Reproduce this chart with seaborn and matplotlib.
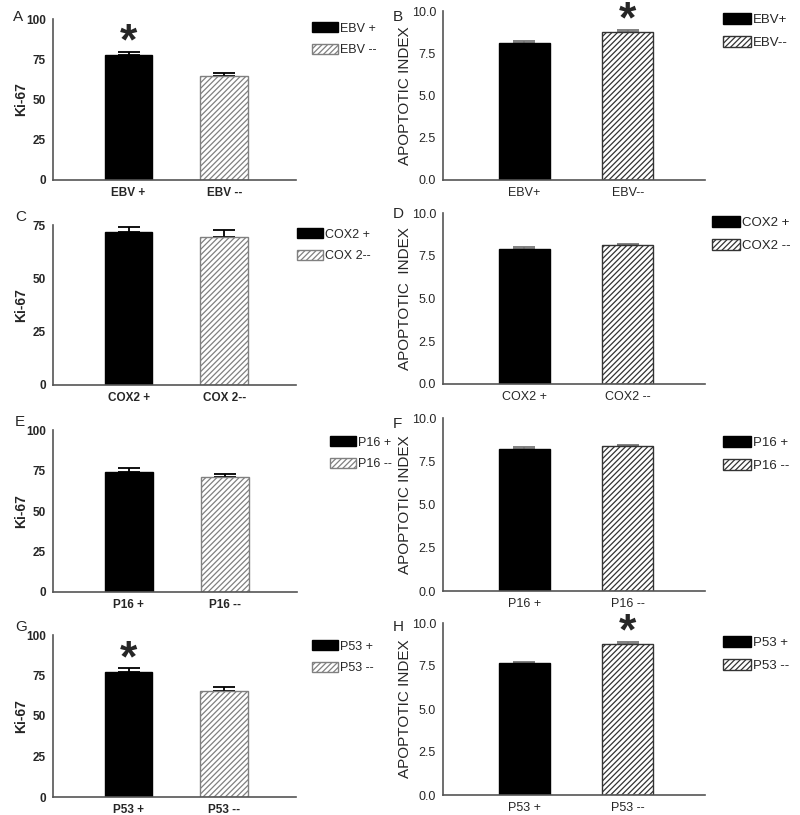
import matplotlib
matplotlib.use("Agg")
import matplotlib.pyplot as plt
import matplotlib.patches as mpatches
import seaborn as sns
import pandas as pd

sns.set_style("white")
plt.rcParams["font.family"] = ["Liberation Sans", "DejaVu Sans"]
plt.rcParams["hatch.linewidth"] = 0.9

# data (mean, upper error)
panel_letters = ["A", "B", "C", "D", "E", "F", "G", "H"]
groups = [["EBV +", "EBV --"], ["EBV+", "EBV--"],
          ["COX2 +", "COX 2--"], ["COX2 +", "COX2 --"],
          ["P16 +", "P16 --"], ["P16 +", "P16 --"],
          ["P53 +", "P53 --"], ["P53 +", "P53 --"]]
means = [[77.5, 64.5], [8.1, 8.75],
         [71.8, 69.2], [7.9, 8.1],
         [74.2, 70.8], [8.2, 8.4],
         [77.3, 65.6], [7.7, 8.8]]
errors = [[2.2, 1.8], [0.1, 0.15],
          [2.1, 3.6], [0.1, 0.1],
          [2.1, 2.3], [0.1, 0.05],
          [2.1, 2.1], [0.05, 0.1]]
star_bar = [0, 1, None, None, None, None, 0, 1]
ylabels = ["Ki-67", "APOPTOTIC INDEX", "Ki-67", "APOPTOTIC  INDEX",
           "Ki-67", "APOPTOTIC INDEX", "Ki-67", "APOPTOTIC INDEX"]
ymax = [100, 10, 75, 10, 100, 10, 100, 10]
ki_ticks = [0, 25, 50, 75, 100]
ai_ticks = [0.0, 2.5, 5.0, 7.5, 10.0]

W, H = 800, 815
fig = plt.figure(figsize=(W / 100, H / 100), dpi=100)

# axes boxes in pixels: left, top, right, bottom
boxes = [(53, 19, 296, 180), (443, 11, 705, 180),
         (53, 225, 296, 385), (443, 213, 705, 384),
         (53, 430, 297, 592), (443, 418, 705, 591),
         (53, 635, 296, 797), (443, 623, 705, 795)]
legend_pos = [(312, 22), (723, 13), (297, 228), (712, 216),
              (330, 436), (723, 436), (312, 640), (723, 636)]
letter_pos = [(13, 10), (393, 10), (15, 210), (393, 207),
              (15, 415), (393, 417), (15, 620), (393, 620)]

for i in range(8):
    x0, y0, x1, y1 = boxes[i]
    ax = fig.add_axes([x0 / W, 1 - y1 / H, (x1 - x0) / W, (y1 - y0) / H])
    left = i % 2 == 0
    hatch_col = "#808080" if left else "#333333"

    df = pd.DataFrame({"group": groups[i], "value": means[i]})
    sns.barplot(data=df, x="group", y="value", hue="group",
                palette=["black", "white"], legend=False, width=0.5,
                errorbar=None, ax=ax, zorder=2)
    black_bar, hatch_bar = ax.patches[0], ax.patches[1]
    black_bar.set_edgecolor("black")
    hatch_bar.set_hatch("//////")
    hatch_bar.set_edgecolor(hatch_col)
    hatch_bar.set_linewidth(1.0)

    ecol = "black" if left else "#777777"
    ax.errorbar([0, 1], means[i], yerr=[[0, 0], errors[i]], fmt="none",
                ecolor=ecol, elinewidth=1.3, capsize=8, capthick=1.3,
                zorder=1)

    if star_bar[i] is not None:
        j = star_bar[i]
        ax.annotate("*", xy=(j, means[i][j] + errors[i][j]), xytext=(0, -2),
                    textcoords="offset points", ha="center", va="baseline",
                    fontsize=32, fontweight="bold", annotation_clip=False)

    ticks = ki_ticks if left else ai_ticks
    ticks = [t for t in ticks if t <= ymax[i]]
    ax.set_yticks(ticks)
    if left:
        ax.set_yticklabels([str(int(t)) for t in ticks])
    else:
        ax.set_yticklabels(["%.1f" % t for t in ticks])
    ax.set_xlim(-0.79, 1.75)
    ax.set_ylim(0, ymax[i])
    ax.set_xlabel("")
    sns.despine(ax=ax)
    for s in ["left", "bottom"]:
        ax.spines[s].set_color("#555555")
        ax.spines[s].set_linewidth(1.2)
    ax.tick_params(axis="y", length=4, width=1.2, color="#555555",
                   labelsize=8.5 if left else 9, pad=1)
    ax.tick_params(axis="x", length=0, labelsize=8.5 if left else 9, pad=5)
    if left:
        for lab in ax.get_xticklabels() + ax.get_yticklabels():
            lab.set_fontweight("bold")

    if left:
        ax.set_ylabel(ylabels[i], fontsize=10, fontweight="bold")
        ax.yaxis.set_label_coords((28 - x0) / (x1 - x0), 0.5)
    else:
        ax.set_ylabel(ylabels[i], fontsize=11)
        ax.yaxis.set_label_coords((412 - x0) / (x1 - x0), 0.5)

    handles = [mpatches.Patch(facecolor="black", edgecolor="black"),
               mpatches.Patch(facecolor="white", edgecolor=hatch_col, hatch="//////")]
    lx, ly = legend_pos[i]
    ax.legend(handles, groups[i], loc="upper left",
              bbox_to_anchor=(lx / W, 1 - ly / H), bbox_transform=fig.transFigure,
              frameon=False, borderpad=0, borderaxespad=0,
              handlelength=2.1, handleheight=0.9, handletextpad=0.15,
              labelspacing=0.75, fontsize=9 if left else 9.5)

    px, py = letter_pos[i]
    fig.text(px / W, 1 - py / H, panel_letters[i], fontsize=11,
             ha="left", va="top")

fig.savefig("out.png", dpi=100)
